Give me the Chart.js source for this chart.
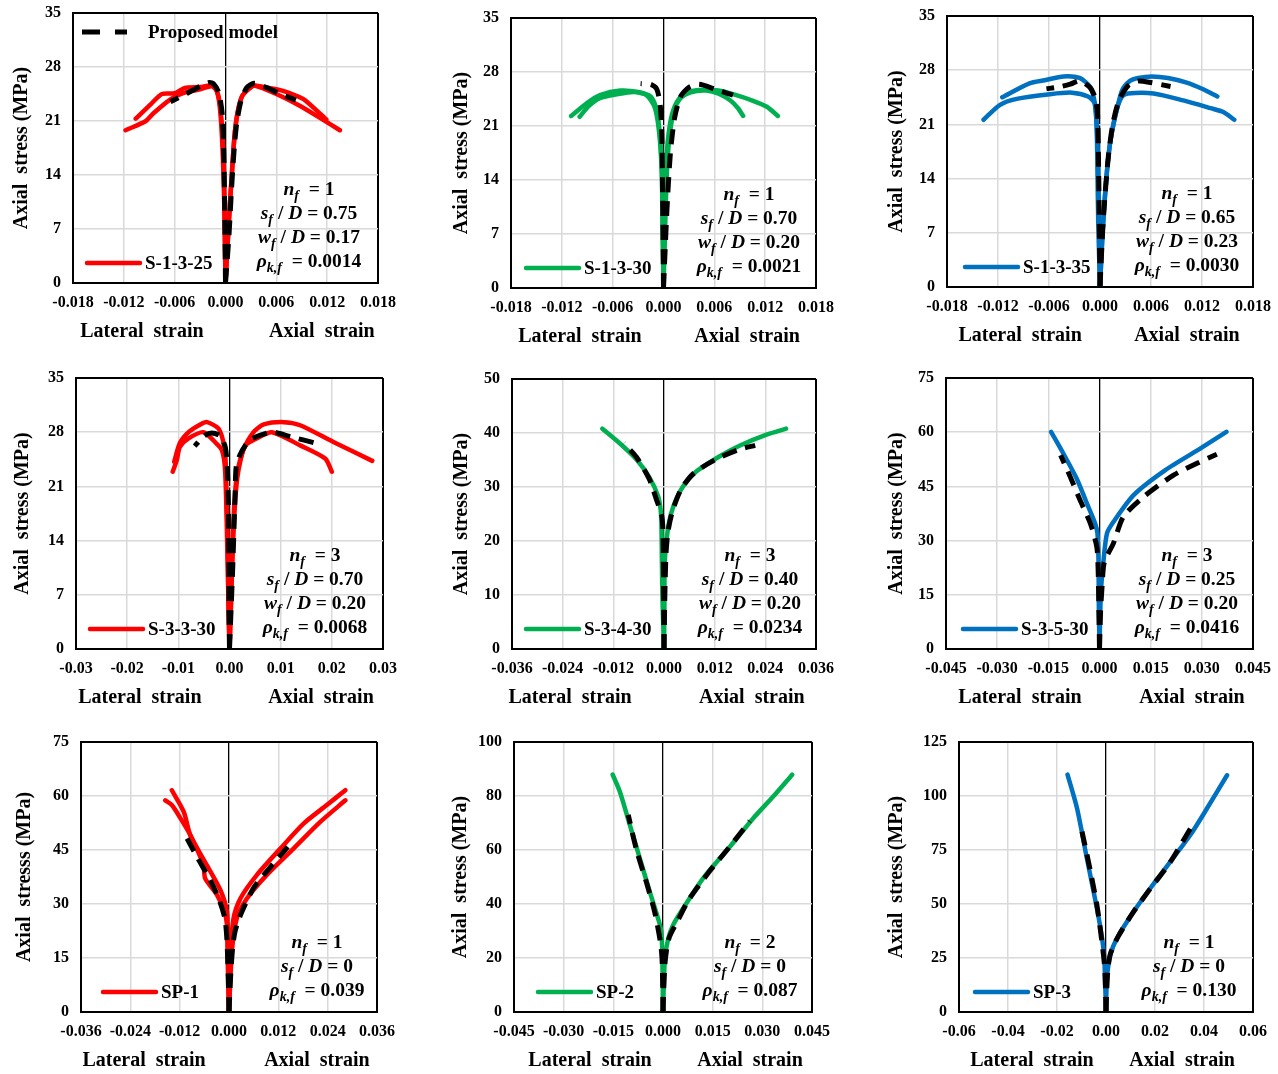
<!DOCTYPE html>
<html>
<head>
<meta charset="utf-8">
<script src="https://cdn.jsdelivr.net/npm/chart.js@4.4.1/dist/chart.umd.min.js"></script>
<style>
  html, body { margin: 0; padding: 0; background: #fff; }
  #page { position: relative; width: 1278px; height: 1074px; overflow: hidden; background: #fff; }
  #page canvas { position: absolute; }
</style>
</head>
<body>
<div id="page"></div>
<script>
// ---- data: [strain, stress] pairs, lateral strain plotted as negative ----

// S-1-3-25
const P1_A_LAT = [[0,0],[-0.0001,8],[-0.0002,15],[-0.0004,20],[-0.0007,23.5],[-0.0012,25.3],[-0.0018,25.6],[-0.003,25.4],[-0.0048,25.3],[-0.006,24.6],[-0.0075,24.5],[-0.0088,23.2],[-0.0106,21.3]];
const P1_B_LAT = [[0,0],[-0.0001,8],[-0.0003,16],[-0.0006,22],[-0.001,24.8],[-0.0016,25.5],[-0.003,25.1],[-0.005,24.6],[-0.0065,23.8],[-0.0085,22.0],[-0.0094,21.0],[-0.0118,19.8]];
const P1_A_AX = [[0,0],[0.0004,8],[0.0008,15],[0.0011,19.5],[0.0015,22.5],[0.002,24.3],[0.0028,25.2],[0.0034,25.6],[0.005,25.3],[0.0068,24.9],[0.0085,24.2],[0.0095,23.6],[0.0119,21.2]];
const P1_B_AX = [[0,0],[0.0004,8],[0.0008,15],[0.0011,19.5],[0.0015,22.5],[0.002,24.3],[0.0028,25.2],[0.0034,25.6],[0.006,24.5],[0.0087,23.0],[0.011,21.5],[0.0135,19.8]];
const P1_M_LAT = [[0,0],[-0.0001,10],[-0.0002,17],[-0.0004,22],[-0.0008,24.7],[-0.0014,25.8],[-0.0019,26.0],[-0.003,25.5],[-0.0045,24.6],[-0.0065,23.5]];
const P1_M_AX = [[0,0],[0.0004,6],[0.0007,12],[0.001,17],[0.0013,20.5],[0.0018,23.5],[0.0025,25.3],[0.0034,25.9],[0.0045,25.5],[0.0065,24.5],[0.0083,23.7]];

// S-1-3-30
const P2_A_LAT = [[0,0],[-0.0001,8],[-0.0002,15],[-0.0004,19.5],[-0.0008,23],[-0.0015,24.8],[-0.003,25.4],[-0.0051,25.6],[-0.0075,25.0],[-0.009,24.0],[-0.0109,22.3]];
const P2_B_LAT = [[0,0],[-0.0001,8],[-0.0002,15],[-0.0005,20],[-0.001,23.3],[-0.002,25.0],[-0.0035,25.4],[-0.0055,25.1],[-0.0075,24.6],[-0.0088,23.6],[-0.0099,22.2]];
const P2_A_AX = [[0,0],[0.0001,8],[0.0003,15],[0.0005,19],[0.001,22.5],[0.0018,24.5],[0.003,25.4],[0.0047,25.7],[0.0065,25.6],[0.0083,25.1],[0.0105,24.3],[0.0122,23.5],[0.0135,22.3]];
const P2_B_AX = [[0,0],[0.0002,8],[0.0004,15],[0.0007,19.5],[0.0012,22.8],[0.002,24.6],[0.0033,25.4],[0.005,25.6],[0.0065,25.2],[0.0079,24.3],[0.0088,23.3],[0.0094,22.3]];
const P2_M_LAT = [[0,0],[-0.0001,12],[-0.0002,20],[-0.0004,23.8],[-0.0008,25.8],[-0.0015,26.4],[-0.0027,26.5]];
const P2_M_AX = [[0,0],[0.0004,10],[0.0008,17.3],[0.0013,22],[0.002,24.8],[0.003,26.0],[0.0042,26.4],[0.006,25.8],[0.0082,25.0]];

// S-1-3-35
const P3_A_LAT = [[0,0],[-0.0001,8],[-0.0002,15],[-0.0004,21],[-0.0007,24.3],[-0.0012,25.9],[-0.0024,27.0],[-0.0043,27.2],[-0.0065,26.7],[-0.0083,26.3],[-0.0115,24.5]];
const P3_B_LAT = [[0,0],[-0.0002,8],[-0.0003,15],[-0.0004,21],[-0.0006,23.7],[-0.0014,24.6],[-0.0033,25.1],[-0.0059,24.9],[-0.0098,24.3],[-0.0118,23.5],[-0.0137,21.6]];
const P3_A_AX = [[0,0],[0.0003,7],[0.0006,12],[0.001,17],[0.0014,20],[0.002,23],[0.0026,25.4],[0.0035,26.6],[0.0045,27.0],[0.0061,27.2],[0.008,27.0],[0.0102,26.4],[0.012,25.6],[0.0138,24.6]];
const P3_B_AX = [[0,0],[0.0003,7],[0.0006,12],[0.001,17],[0.0014,20],[0.002,23],[0.0026,24.6],[0.0033,25.0],[0.0063,25.0],[0.0098,24.1],[0.013,23.1],[0.0145,22.6],[0.0158,21.6]];
const P3_M_LAT = [[0,0],[-0.0001,10],[-0.0002,18],[-0.0003,22.5],[-0.0006,24.5],[-0.0012,25.8],[-0.0024,26.6],[-0.0035,26.2],[-0.005,25.8],[-0.0063,25.6]];
const P3_M_AX = [[0,0],[0.0003,7],[0.0006,12],[0.001,17],[0.0015,21],[0.0022,24],[0.0033,26.0],[0.0045,26.6],[0.006,26.4],[0.0083,25.9]];

// S-3-3-30
const P4_A_LAT = [[0,0],[-0.0002,6],[-0.0003,11.5],[-0.0005,18],[-0.0008,24.8],[-0.0013,27.0],[-0.0022,28.5],[-0.0044,29.3],[-0.0057,29.0],[-0.008,28.0],[-0.0097,26.6],[-0.0108,24.2]];
const P4_B_LAT = [[0,0],[-0.0002,6],[-0.0004,12],[-0.0006,18],[-0.0009,23.5],[-0.0015,25.7],[-0.0025,26.5],[-0.0051,28.0],[-0.008,27.2],[-0.0097,26.1],[-0.0103,24.4],[-0.0111,22.9]];
const P4_A_AX = [[0,0],[0.0003,6],[0.0005,12],[0.0008,17],[0.0012,21],[0.0016,23.1],[0.0027,25.7],[0.0047,28.0],[0.0067,29.0],[0.0106,29.3],[0.0138,28.9],[0.0204,26.7],[0.0279,24.3]];
const P4_B_AX = [[0,0],[0.0003,6],[0.0006,12],[0.001,18],[0.0015,22],[0.0022,24.5],[0.0031,26.3],[0.0053,27.2],[0.0083,28.0],[0.0138,26.3],[0.0187,24.6],[0.02,22.9]];
const P4_M_LAT = [[0,0],[-0.0001,5],[-0.0001,10],[-0.0002,18],[-0.0004,23],[-0.0008,26],[-0.0018,27.5],[-0.0035,27.9],[-0.005,27.5],[-0.0068,26.2]];
const P4_M_AX = [[0,0],[0.0003,5],[0.0006,10],[0.0009,16],[0.0011,20],[0.0013,23.5],[0.002,25],[0.003,26.2],[0.0045,27.2],[0.0083,28.0],[0.012,27.4],[0.0168,26.6]];

// S-3-4-30
const P5_A_LAT = [[0,0],[-0.0004,10.4],[-0.0006,22.7],[-0.0008,25.8],[-0.0014,28.3],[-0.0034,31.7],[-0.0065,35.1],[-0.0105,38.1],[-0.0146,40.8]];
const P5_A_AX = [[0,0],[0.0001,8],[0.0002,16.5],[0.001,22.7],[0.0022,26.4],[0.0045,30.1],[0.0077,32.9],[0.0132,35.7],[0.018,37.7],[0.0243,39.7],[0.0289,40.8]];
const P5_M_LAT = [[0,0],[-0.0001,10],[-0.0002,20],[-0.0005,24.5],[-0.0018,27.7],[-0.0035,31.5],[-0.0065,35.5],[-0.0095,38.1]];
const P5_M_AX = [[0,0],[0.0002,10],[0.0005,18],[0.001,22],[0.002,25.5],[0.004,29.5],[0.007,32.5],[0.012,35],[0.018,37],[0.0216,37.7]];

// S-3-5-30
const P6_A_LAT = [[0,0],[-0.0002,12],[-0.0003,24.7],[-0.0006,32.0],[-0.0013,34.8],[-0.0037,40.3],[-0.0067,47.2],[-0.0106,54.1],[-0.0142,60.1]];
const P6_A_AX = [[0,0],[0.0004,15.5],[0.0012,24.7],[0.0022,32.0],[0.0041,35.2],[0.01,42.6],[0.0193,49.5],[0.0296,55.5],[0.0372,60.1]];
const P6_M_LAT = [[0,0],[-0.0002,12],[-0.0004,22],[-0.0008,28.3],[-0.0027,34.8],[-0.0057,41.2],[-0.0086,47.7],[-0.0114,53.6]];
const P6_M_AX = [[0,0],[0.0003,10],[0.0008,18],[0.0014,24],[0.0041,29.3],[0.007,36.6],[0.0129,42.1],[0.0217,48.1],[0.0286,51.4],[0.0344,53.9]];

// SP-1
const P7_A_LAT = [[0,0],[-0.0002,10],[-0.0004,20],[-0.0005,24.2],[-0.0011,27.9],[-0.0029,32.5],[-0.0058,37.1],[-0.0062,40.8],[-0.0094,49.1],[-0.0118,53.8],[-0.0139,57.5],[-0.0155,58.8]];
const P7_B_LAT = [[0,0],[-0.0002,10],[-0.0003,20],[-0.0005,27.9],[-0.0021,33.9],[-0.0054,40.8],[-0.0094,49.1],[-0.011,55.6],[-0.0139,61.6]];
const P7_A_AX = [[0,0],[0.0003,15],[0.0011,26.0],[0.0028,31.6],[0.0068,38.1],[0.0125,45.4],[0.0182,52.4],[0.0238,57.5],[0.0283,61.6]];
const P7_B_AX = [[0,0],[0.0007,16.8],[0.0019,26.0],[0.0044,31.6],[0.0092,38.1],[0.0157,45.4],[0.0222,52.8],[0.0283,58.8]];
const P7_M_LAT = [[0,0],[-0.0002,10],[-0.0005,20],[-0.001,26],[-0.0025,31.5],[-0.0045,36.5],[-0.0075,42.5],[-0.0102,48.2]];
const P7_M_AX = [[0,0],[0.0004,10],[0.0009,18],[0.0015,22.5],[0.003,27.5],[0.006,34.5],[0.0095,39.5],[0.0143,45.9]];

// SP-2
const P8_A_LAT = [[0,0],[-0.0002,20],[-0.0005,29.8],[-0.0015,34.7],[-0.004,44.6],[-0.007,56.9],[-0.01,69.2],[-0.013,81.5],[-0.0152,87.9]];
const P8_A_AX = [[0,0],[0.0003,12],[0.0006,20],[0.0016,27.3],[0.0031,32.3],[0.0061,38.4],[0.0121,49.5],[0.0202,61.2],[0.0272,71.7],[0.0332,79.7],[0.039,87.9]];
const P8_M_LAT = [[0,0],[-0.0001,10],[-0.0003,20],[-0.0008,26],[-0.0025,37],[-0.005,48],[-0.008,60],[-0.0105,73]];
const P8_M_AX = [[0,0],[0.0002,8],[0.0006,18],[0.0012,24],[0.002,28],[0.0045,34],[0.008,42],[0.014,52],[0.02,61],[0.0262,70.7]];

// SP-3
const P9_A_LAT = [[0,0],[-0.0003,12],[-0.0007,24.9],[-0.0016,34.2],[-0.0037,48.0],[-0.0078,71.1],[-0.0118,94.2],[-0.0157,109.9]];
const P9_A_AX = [[0,0],[0.0004,15.7],[0.0018,26.5],[0.0045,34.2],[0.0113,46.5],[0.0181,57.3],[0.0263,69.6],[0.0344,81.9],[0.0412,94.2],[0.0494,109.6]];
const P9_M_LAT = [[0,0],[-0.0002,10],[-0.0005,20],[-0.0012,28],[-0.0035,48],[-0.0065,66],[-0.0098,83.5]];
const P9_M_AX = [[0,0],[0.0003,10],[0.0008,20],[0.0018,27],[0.005,35],[0.011,46],[0.018,57],[0.026,69],[0.035,86]];

// specimen names and parameters, one per panel
const SPECIMENS = ['S-1-3-25', 'S-1-3-30', 'S-1-3-35', 'S-3-3-30', 'S-3-4-30', 'S-3-5-30', 'SP-1', 'SP-2', 'SP-3'];
const NF = ['1', '1', '1', '3', '3', '3', '1', '2', '1'];
const SF_D = ['0.75', '0.70', '0.65', '0.70', '0.40', '0.25', '0', '0', '0'];
const WF_D = ['0.17', '0.20', '0.23', '0.20', '0.20', '0.20', null, null, null];
const RHO = ['0.0014', '0.0021', '0.0030', '0.0068', '0.0234', '0.0416', '0.039', '0.087', '0.130'];

// axis limits
const X_MAX = [0.018, 0.018, 0.018, 0.03, 0.036, 0.045, 0.036, 0.045, 0.06];
const X_STEP = [0.006, 0.006, 0.006, 0.01, 0.012, 0.015, 0.012, 0.015, 0.02];
const X_DEC = [3, 3, 3, 2, 3, 3, 3, 3, 2];
const Y_MAX = [35, 35, 35, 35, 50, 75, 75, 100, 125];
const Y_STEP = [7, 7, 7, 7, 10, 15, 15, 20, 25];

const RED = '#FF0000';
const GREEN = '#00B050';
const BLUE = '#0070C0';
const SERIF = '"Liberation Serif", "Times New Roman", serif';

// layout of each panel (plot box left, top, right, bottom; y title centre)
const PANELS = [
    { box: [73, 13, 378, 283], tx: 22, color: RED, exp: [P1_A_LAT, P1_A_AX, P1_B_LAT, P1_B_AX], model: [P1_M_LAT, P1_M_AX], legX: 14, statX: 69, xt: [0.226, 0.816], modelLegend: true },
    { box: [511, 18, 816, 288], tx: 462, color: GREEN, exp: [P2_A_LAT, P2_A_AX, P2_B_LAT, P2_B_AX], model: [P2_M_LAT, P2_M_AX], legX: 15, statX: 67, xt: [0.226, 0.774] },
    { box: [947, 16, 1253, 287], tx: 897, color: BLUE, exp: [P3_A_LAT, P3_A_AX, P3_B_LAT, P3_B_AX], model: [P3_M_LAT, P3_M_AX], legX: 18, statX: 66, xt: [0.239, 0.784] },
    { box: [76, 378, 383, 649], tx: 23, color: RED, exp: [P4_A_LAT, P4_A_AX, P4_B_LAT, P4_B_AX], model: [P4_M_LAT, P4_M_AX], legX: 14, statX: 68, xt: [0.208, 0.798] },
    { box: [512, 379, 816, 649], tx: 462, color: GREEN, exp: [P5_A_LAT, P5_A_AX], model: [P5_M_LAT, P5_M_AX], legX: 14, statX: 66, xt: [0.191, 0.789] },
    { box: [946, 378, 1253, 649], tx: 897, color: BLUE, exp: [P6_A_LAT, P6_A_AX], model: [P6_M_LAT, P6_M_AX], legX: 17, statX: 66, xt: [0.241, 0.801] },
    { box: [81, 742, 377, 1012], tx: 25, color: RED, exp: [P7_A_LAT, P7_A_AX, P7_B_LAT, P7_B_AX], model: [P7_M_LAT, P7_M_AX], legX: 22, statX: 60, xt: [0.213, 0.797], yTitle: 'Axial  stresss (MPa)' },
    { box: [514, 742, 812, 1012], tx: 461, color: GREEN, exp: [P8_A_LAT, P8_A_AX], model: [P8_M_LAT, P8_M_AX], legX: 24, statX: 62, xt: [0.255, 0.792] },
    { box: [959, 742, 1253, 1012], tx: 897, color: BLUE, exp: [P9_A_LAT, P9_A_AX], model: [P9_M_LAT, P9_M_AX], legX: 16, statX: 64, xt: [0.248, 0.759] }
];

// the y scale asks for half a label plus its tick padding above the plot,
// and the x scale for half a label plus padding at the right
const PAD_TOP = 24;
const PAD_RIGHT = 34;
const X_AXIS_H = 62;

function toPoints(arr) {
    return arr.map(([x, y]) => ({ x: x, y: y }));
}

function gridColor(v, lo, hi) {
    if (v === undefined) return '#d9d9d9';
    if (Math.abs(v - lo) < 1e-9 || Math.abs(v - hi) < 1e-9 || Math.abs(v) < 1e-9) return '#000';
    return '#d9d9d9';
}
function gridWidth(v, lo, hi) {
    if (v === undefined) return 1.5;
    if (Math.abs(v - lo) < 1e-9 || Math.abs(v - hi) < 1e-9) return 2;
    if (Math.abs(v) < 1e-9) return 1.3;
    return 1.5;
}

// text made of runs, some italic / subscript, centred on cx
function drawRuns(ctx, runs, cx, cy, size) {
    const fontFor = r => `${r.it ? 'italic ' : ''}bold ${r.sub ? Math.round(size * 0.7) : size}px ${SERIF}`;
    let total = 0;
    runs.forEach(r => { ctx.font = fontFor(r); total += ctx.measureText(r.t).width; });
    let x = cx - total / 2;
    ctx.textAlign = 'left';
    ctx.textBaseline = 'middle';
    runs.forEach(r => {
        ctx.font = fontFor(r);
        ctx.fillText(r.t, x, cy + (r.sub ? size * 0.32 : 0));
        x += ctx.measureText(r.t).width;
    });
}

const decorPlugin = {
    id: 'decor',
    afterDraw(chart, args, o) {
        const ctx = chart.ctx;
        const a = chart.chartArea;
        const w = a.right - a.left;
        ctx.save();
        ctx.fillStyle = '#000';

        // two x titles under the axis
        ctx.textAlign = 'center';
        ctx.textBaseline = 'middle';
        ctx.font = `bold 20px ${SERIF}`;
        ctx.fillText('Lateral  strain', a.left + o.xt[0] * w, a.bottom + 49);
        ctx.fillText('Axial  strain', a.left + o.xt[1] * w, a.bottom + 49);

        // legend inside the plot
        const exp = chart.data.datasets.find(d => !d.isModel);
        const lx = a.left + o.legX;
        const ly = a.bottom - 20;
        ctx.strokeStyle = exp.borderColor;
        ctx.lineWidth = 4.5;
        ctx.lineCap = 'round';
        ctx.beginPath();
        ctx.moveTo(lx, ly);
        ctx.lineTo(lx + 53, ly);
        ctx.stroke();
        ctx.textAlign = 'left';
        ctx.font = `bold 19px ${SERIF}`;
        ctx.fillText(exp.label, lx + 58, ly + 1);

        if (o.modelLegend) {
            const mx = a.left + 9;
            const my = a.top + 19;
            ctx.strokeStyle = '#000';
            ctx.lineWidth = 5;
            ctx.lineCap = 'butt';
            ctx.setLineDash([18, 15]);
            ctx.beginPath();
            ctx.moveTo(mx, my);
            ctx.lineTo(mx + 45, my);
            ctx.stroke();
            ctx.setLineDash([]);
            ctx.fillText('Proposed model', a.left + 75, my + 1);
        }

        // parameters
        const lines = [];
        lines.push([{ t: 'n', it: true }, { t: 'f', it: true, sub: true }, { t: '  = ' + o.nf }]);
        lines.push([{ t: 's', it: true }, { t: 'f', it: true, sub: true }, { t: ' / ' }, { t: 'D', it: true }, { t: ' = ' + o.sd }]);
        if (o.wd) lines.push([{ t: 'w', it: true }, { t: 'f', it: true, sub: true }, { t: ' / ' }, { t: 'D', it: true }, { t: ' = ' + o.wd }]);
        lines.push([{ t: 'ρ', it: true }, { t: 'k,f', it: true, sub: true }, { t: '  = ' + o.rho }]);
        const cx = a.right - o.statX;
        lines.forEach((runs, i) => {
            const cy = a.bottom - 21 - (lines.length - 1 - i) * 24;
            drawRuns(ctx, runs, cx, cy, 19.5);
        });
        ctx.restore();
    }
};

function makePanel(p, i) {
    const [L, T, R, B] = p.box;
    const left = p.tx - 16;
    const top = T - PAD_TOP;
    const width = R + PAD_RIGHT - left;
    const height = B - top + X_AXIS_H;
    const yW = L - left;

    const canvas = document.createElement('canvas');
    canvas.width = width;
    canvas.height = height;
    canvas.style.left = left + 'px';
    canvas.style.top = top + 'px';
    canvas.style.width = width + 'px';
    canvas.style.height = height + 'px';
    document.getElementById('page').appendChild(canvas);

    const xMax = X_MAX[i], dec = X_DEC[i], yMax = Y_MAX[i];
    const datasets = [];
    // model curves first so they are drawn on top
    p.model.forEach(m => datasets.push({
        label: 'Proposed model',
        isModel: true,
        data: toPoints(m),
        showLine: true,
        borderColor: '#000',
        borderWidth: 5,
        borderDash: [15, 9],
        borderCapStyle: 'butt',
        pointRadius: 0,
        tension: 0.25
    }));
    p.exp.forEach(e => datasets.push({
        label: SPECIMENS[i],
        data: toPoints(e),
        showLine: true,
        borderColor: p.color,
        borderWidth: 4.5,
        borderCapStyle: 'round',
        borderJoinStyle: 'round',
        pointRadius: 0,
        tension: 0.25
    }));

    const tickFont = { family: SERIF, size: 16, weight: 'bold' };

    new Chart(canvas, {
        type: 'scatter',
        data: { datasets: datasets },
        plugins: [decorPlugin],
        options: {
            responsive: false,
            animation: false,
            devicePixelRatio: 1,
            layout: { padding: { left: 0, top: PAD_TOP, right: PAD_RIGHT, bottom: 0 } },
            plugins: {
                legend: { display: false },
                tooltip: { enabled: false },
                decor: {
                    xt: p.xt, legX: p.legX, statX: p.statX, modelLegend: !!p.modelLegend,
                    nf: NF[i], sd: SF_D[i], wd: WF_D[i], rho: RHO[i]
                }
            },
            scales: {
                x: {
                    type: 'linear',
                    min: -xMax,
                    max: xMax,
                    afterFit: s => { s.height = X_AXIS_H; },
                    ticks: {
                        stepSize: X_STEP[i],
                        autoSkip: false,
                        maxRotation: 0,
                        padding: 10,
                        color: '#000',
                        font: tickFont,
                        callback: v => (Math.abs(v) < 1e-9 ? 0 : v).toFixed(dec)
                    },
                    grid: {
                        drawTicks: false,
                        color: c => gridColor(c.tick && c.tick.value, -xMax, xMax),
                        lineWidth: c => gridWidth(c.tick && c.tick.value, -xMax, xMax)
                    },
                    border: { color: '#000', width: 2 }
                },
                y: {
                    type: 'linear',
                    min: 0,
                    max: yMax,
                    afterFit: s => { s.width = yW; },
                    ticks: {
                        stepSize: Y_STEP[i],
                        padding: 12,
                        color: '#000',
                        font: tickFont
                    },
                    grid: {
                        drawTicks: false,
                        color: c => gridColor(c.tick && c.tick.value, 0, yMax),
                        lineWidth: c => gridWidth(c.tick && c.tick.value, 0, yMax)
                    },
                    border: { color: '#000', width: 2 },
                    title: {
                        display: true,
                        text: p.yTitle || 'Axial  stress (MPa)',
                        color: '#000',
                        font: { family: SERIF, size: 20, weight: 'bold' }
                    }
                }
            }
        }
    });
}

PANELS.forEach(makePanel);
</script>
</body>
</html>
